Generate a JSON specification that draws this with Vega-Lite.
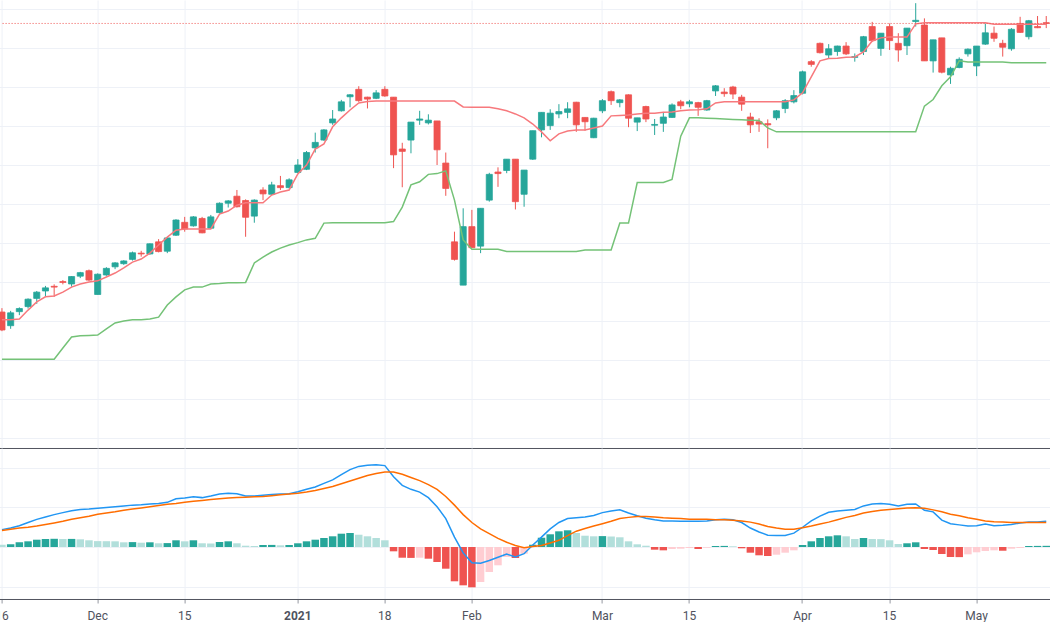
{
  "$schema": "https://vega.github.io/schema/vega-lite/v6.json",
  "padding": {"left": -5.4, "top": 0, "right": 0, "bottom": 0},
  "background": "#ffffff",
  "spacing": 0,
  "config": {
    "view": {"stroke": null},
    "font": "Roboto",
    "axis": {"minExtent": 0, "gridColor": "#eef1f7", "gridWidth": 1}
  },
  "datasets": {
    "bars": [
      {"date":"2020-11-16","open":132.3,"high":133.3,"low":127.4,"close":127.7,"upper":130.3,"lower":120.2,"macd":4.4,"signal":4.2,"hist":0.58},
      {"date":"2020-11-17","open":128.8,"high":132.6,"low":128.0,"close":132.1,"upper":130.3,"lower":120.2,"macd":4.8,"signal":4.5,"hist":0.68},
      {"date":"2020-11-18","open":132.4,"high":133.5,"low":131.5,"close":133.2,"upper":130.5,"lower":120.2,"macd":5.4,"signal":4.8,"hist":1.19},
      {"date":"2020-11-19","open":133.7,"high":135.8,"low":133.2,"close":135.6,"upper":132.8,"lower":120.2,"macd":6.2,"signal":5.0,"hist":1.44},
      {"date":"2020-11-20","open":135.8,"high":137.7,"low":134.4,"close":137.4,"upper":134.9,"lower":120.2,"macd":7.0,"signal":5.3,"hist":1.85},
      {"date":"2020-11-23","open":137.7,"high":139.0,"low":136.2,"close":138.5,"upper":136.2,"lower":120.2,"macd":7.6,"signal":5.7,"hist":2.03},
      {"date":"2020-11-24","open":138.9,"high":139.4,"low":136.2,"close":138.7,"upper":136.4,"lower":120.2,"macd":8.2,"signal":6.1,"hist":2.08},
      {"date":"2020-11-25","open":140.1,"high":140.5,"low":139.4,"close":139.9,"upper":137.4,"lower":123.1,"macd":8.7,"signal":6.5,"hist":2.03},
      {"date":"2020-11-26","open":139.5,"high":141.5,"low":138.8,"close":141.4,"upper":138.7,"lower":125.9,"macd":9.2,"signal":7.0,"hist":2.05},
      {"date":"2020-11-27","open":141.5,"high":142.6,"low":141.0,"close":142.4,"upper":139.5,"lower":126.2,"macd":9.5,"signal":7.4,"hist":1.95},
      {"date":"2020-11-30","open":142.9,"high":143.2,"low":140.3,"close":140.5,"upper":140.0,"lower":126.3,"macd":9.6,"signal":7.8,"hist":1.70},
      {"date":"2020-12-01","open":136.8,"high":142.2,"low":136.8,"close":142.0,"upper":140.3,"lower":126.4,"macd":9.8,"signal":8.3,"hist":1.49},
      {"date":"2020-12-02","open":141.8,"high":143.8,"low":141.6,"close":143.5,"upper":141.3,"lower":128.0,"macd":10.0,"signal":8.6,"hist":1.47},
      {"date":"2020-12-03","open":143.9,"high":145.1,"low":143.3,"close":144.9,"upper":142.3,"lower":129.5,"macd":10.2,"signal":8.9,"hist":1.44},
      {"date":"2020-12-04","open":144.7,"high":145.6,"low":144.4,"close":145.4,"upper":143.6,"lower":130.0,"macd":10.4,"signal":9.3,"hist":1.19},
      {"date":"2020-12-07","open":145.8,"high":147.8,"low":145.5,"close":147.5,"upper":145.1,"lower":130.3,"macd":10.6,"signal":9.6,"hist":1.24},
      {"date":"2020-12-08","open":147.4,"high":148.0,"low":146.5,"close":147.2,"upper":145.9,"lower":130.3,"macd":10.7,"signal":9.9,"hist":1.09},
      {"date":"2020-12-09","open":147.2,"high":149.9,"low":147.0,"close":149.8,"upper":147.4,"lower":130.5,"macd":10.9,"signal":10.2,"hist":1.19},
      {"date":"2020-12-10","open":150.3,"high":151.0,"low":147.6,"close":147.8,"upper":149.5,"lower":131.0,"macd":11.0,"signal":10.5,"hist":0.94},
      {"date":"2020-12-11","open":147.9,"high":151.5,"low":147.4,"close":151.3,"upper":151.5,"lower":134.1,"macd":11.3,"signal":10.8,"hist":0.99},
      {"date":"2020-12-14","open":152.0,"high":156.1,"low":151.8,"close":155.9,"upper":153.3,"lower":136.2,"macd":12.2,"signal":11.0,"hist":1.70},
      {"date":"2020-12-15","open":155.3,"high":156.7,"low":152.9,"close":153.6,"upper":153.6,"lower":138.0,"macd":12.4,"signal":11.3,"hist":1.44},
      {"date":"2020-12-16","open":154.4,"high":156.9,"low":154.2,"close":156.7,"upper":153.6,"lower":138.7,"macd":12.7,"signal":11.6,"hist":1.70},
      {"date":"2020-12-17","open":156.3,"high":156.7,"low":152.5,"close":152.6,"upper":153.6,"lower":138.7,"macd":12.5,"signal":11.8,"hist":0.94},
      {"date":"2020-12-18","open":153.8,"high":157.2,"low":153.6,"close":156.7,"upper":153.6,"lower":139.5,"macd":12.9,"signal":12.0,"hist":0.89},
      {"date":"2020-12-21","open":157.8,"high":160.4,"low":157.6,"close":160.2,"upper":157.4,"lower":139.6,"macd":13.4,"signal":12.2,"hist":1.27},
      {"date":"2020-12-22","open":160.2,"high":161.0,"low":159.1,"close":160.8,"upper":158.2,"lower":139.8,"macd":13.6,"signal":12.4,"hist":1.44},
      {"date":"2020-12-23","open":162.0,"high":163.6,"low":159.1,"close":159.3,"upper":159.7,"lower":139.8,"macd":13.5,"signal":12.5,"hist":0.94},
      {"date":"2020-12-24","open":160.9,"high":161.2,"low":151.6,"close":156.6,"upper":160.3,"lower":139.9,"macd":12.9,"signal":12.6,"hist":0.33},
      {"date":"2020-12-25","open":156.9,"high":161.2,"low":155.2,"close":161.0,"upper":160.3,"lower":144.9,"macd":12.9,"signal":12.7,"hist":0.25},
      {"date":"2020-12-28","open":163.6,"high":164.3,"low":161.0,"close":162.6,"upper":160.3,"lower":146.4,"macd":13.1,"signal":12.8,"hist":0.51},
      {"date":"2020-12-29","open":162.5,"high":165.7,"low":162.3,"close":164.9,"upper":162.3,"lower":147.7,"macd":13.3,"signal":13.0,"hist":0.53},
      {"date":"2020-12-30","open":164.7,"high":167.2,"low":163.6,"close":164.2,"upper":163.1,"lower":148.7,"macd":13.4,"signal":13.2,"hist":0.43},
      {"date":"2020-12-31","open":164.2,"high":166.6,"low":164.0,"close":166.2,"upper":163.6,"lower":149.5,"macd":13.5,"signal":13.4,"hist":0.51},
      {"date":"2021-01-04","open":168.1,"high":171.5,"low":167.9,"close":170.0,"upper":167.7,"lower":150.1,"macd":14.0,"signal":13.6,"hist":0.94},
      {"date":"2021-01-05","open":168.9,"high":173.6,"low":168.7,"close":173.2,"upper":170.0,"lower":150.8,"macd":14.6,"signal":13.9,"hist":1.44},
      {"date":"2021-01-06","open":174.4,"high":178.3,"low":173.2,"close":175.8,"upper":174.1,"lower":151.2,"macd":15.2,"signal":14.3,"hist":1.85},
      {"date":"2021-01-07","open":176.4,"high":179.2,"low":176.2,"close":179.0,"upper":175.4,"lower":155.1,"macd":16.1,"signal":14.8,"hist":2.28},
      {"date":"2021-01-08","open":180.8,"high":184.1,"low":180.3,"close":181.8,"upper":179.8,"lower":155.2,"macd":17.0,"signal":15.3,"hist":2.71},
      {"date":"2021-01-11","open":183.9,"high":186.7,"low":183.7,"close":186.2,"upper":182.1,"lower":155.2,"macd":18.3,"signal":16.0,"hist":3.37},
      {"date":"2021-01-12","open":187.5,"high":188.2,"low":184.8,"close":188.0,"upper":184.1,"lower":155.2,"macd":19.6,"signal":16.7,"hist":3.54},
      {"date":"2021-01-13","open":189.4,"high":190.2,"low":186.2,"close":186.5,"upper":185.9,"lower":155.2,"macd":20.4,"signal":17.4,"hist":3.11},
      {"date":"2021-01-14","open":187.4,"high":187.5,"low":184.5,"close":186.9,"upper":186.3,"lower":155.2,"macd":20.7,"signal":18.1,"hist":2.71},
      {"date":"2021-01-15","open":187.1,"high":189.2,"low":186.9,"close":188.5,"upper":186.4,"lower":155.2,"macd":20.8,"signal":18.6,"hist":2.28},
      {"date":"2021-01-18","open":189.4,"high":190.2,"low":187.5,"close":187.7,"upper":186.4,"lower":155.2,"macd":20.6,"signal":19.0,"hist":1.70},
      {"date":"2021-01-19","open":187.4,"high":187.4,"low":169.2,"close":172.6,"upper":186.4,"lower":155.5,"macd":17.8,"signal":19.0,"hist":-1.09},
      {"date":"2021-01-20","open":174.1,"high":175.7,"low":164.3,"close":173.5,"upper":186.4,"lower":159.2,"macd":15.6,"signal":18.4,"hist":-2.71},
      {"date":"2021-01-21","open":176.4,"high":181.0,"low":173.0,"close":181.0,"upper":186.4,"lower":164.9,"macd":14.6,"signal":17.6,"hist":-2.76},
      {"date":"2021-01-22","open":181.5,"high":183.9,"low":180.3,"close":181.8,"upper":186.4,"lower":165.7,"macd":13.9,"signal":16.8,"hist":-2.71},
      {"date":"2021-01-25","open":180.8,"high":183.0,"low":180.4,"close":181.5,"upper":186.4,"lower":167.6,"macd":12.5,"signal":15.8,"hist":-2.96},
      {"date":"2021-01-26","open":181.3,"high":181.3,"low":170.0,"close":173.9,"upper":186.4,"lower":167.8,"macd":10.2,"signal":14.6,"hist":-3.80},
      {"date":"2021-01-27","open":170.5,"high":173.2,"low":162.1,"close":164.0,"upper":186.4,"lower":168.5,"macd":7.2,"signal":12.8,"hist":-5.49},
      {"date":"2021-01-28","open":150.3,"high":152.9,"low":145.5,"close":145.8,"upper":186.4,"lower":161.0,"macd":2.5,"signal":10.6,"hist":-8.68},
      {"date":"2021-01-29","open":139.2,"high":158.9,"low":139.2,"close":154.2,"upper":184.9,"lower":150.8,"macd":-1.5,"signal":8.2,"hist":-9.70},
      {"date":"2021-02-01","open":154.2,"high":158.5,"low":148.8,"close":148.8,"upper":184.8,"lower":148.4,"macd":-4.0,"signal":6.2,"hist":-10.20},
      {"date":"2021-02-02","open":149.2,"high":158.9,"low":147.4,"close":158.9,"upper":184.8,"lower":148.4,"macd":-4.1,"signal":4.6,"hist":-8.86},
      {"date":"2021-02-03","open":161.0,"high":168.0,"low":160.6,"close":167.6,"upper":184.8,"lower":148.4,"macd":-3.4,"signal":3.4,"hist":-6.33},
      {"date":"2021-02-04","open":168.2,"high":169.4,"low":164.4,"close":167.8,"upper":184.4,"lower":148.4,"macd":-2.6,"signal":2.2,"hist":-4.63},
      {"date":"2021-02-05","open":168.6,"high":171.5,"low":167.9,"close":171.5,"upper":183.9,"lower":147.8,"macd":-1.8,"signal":1.2,"hist":-2.53},
      {"date":"2021-02-08","open":171.5,"high":171.5,"low":158.6,"close":160.6,"upper":183.1,"lower":147.8,"macd":-2.5,"signal":0.4,"hist":-2.78},
      {"date":"2021-02-09","open":162.5,"high":168.7,"low":159.3,"close":168.7,"upper":182.1,"lower":147.8,"macd":-1.7,"signal":-0.2,"hist":-1.70},
      {"date":"2021-02-10","open":171.5,"high":178.8,"low":171.3,"close":178.8,"upper":180.5,"lower":147.8,"macd":0.5,"signal":0.1,"hist":0.58},
      {"date":"2021-02-18","open":179.0,"high":183.5,"low":177.1,"close":183.5,"upper":178.5,"lower":147.8,"macd":2.5,"signal":0.4,"hist":2.35},
      {"date":"2021-02-19","open":180.1,"high":184.3,"low":179.0,"close":183.3,"upper":176.2,"lower":147.8,"macd":4.6,"signal":1.0,"hist":3.22},
      {"date":"2021-02-22","open":183.1,"high":185.6,"low":182.0,"close":183.7,"upper":178.0,"lower":147.8,"macd":6.2,"signal":1.7,"hist":3.97},
      {"date":"2021-02-23","open":183.5,"high":186.1,"low":182.0,"close":184.4,"upper":178.7,"lower":147.8,"macd":7.2,"signal":2.9,"hist":4.23},
      {"date":"2021-02-24","open":186.1,"high":186.2,"low":178.5,"close":180.3,"upper":179.0,"lower":147.8,"macd":7.4,"signal":4.0,"hist":3.54},
      {"date":"2021-02-25","open":182.2,"high":182.2,"low":178.8,"close":181.1,"upper":179.0,"lower":148.2,"macd":7.6,"signal":4.7,"hist":2.86},
      {"date":"2021-02-26","open":177.0,"high":182.1,"low":176.9,"close":182.0,"upper":179.5,"lower":148.2,"macd":8.0,"signal":5.3,"hist":2.71},
      {"date":"2021-03-01","open":183.9,"high":186.9,"low":183.3,"close":186.5,"upper":180.0,"lower":148.2,"macd":8.7,"signal":5.9,"hist":2.76},
      {"date":"2021-03-02","open":188.8,"high":189.1,"low":185.4,"close":186.5,"upper":182.6,"lower":148.2,"macd":9.1,"signal":6.5,"hist":2.66},
      {"date":"2021-03-03","open":186.0,"high":186.9,"low":184.8,"close":186.7,"upper":182.7,"lower":155.1,"macd":9.4,"signal":7.2,"hist":2.46},
      {"date":"2021-03-04","open":188.0,"high":188.1,"low":179.7,"close":182.0,"upper":182.8,"lower":155.1,"macd":8.6,"signal":7.5,"hist":1.44},
      {"date":"2021-03-05","open":181.0,"high":182.1,"low":178.7,"close":182.1,"upper":183.1,"lower":165.5,"macd":7.9,"signal":7.7,"hist":0.68},
      {"date":"2021-03-08","open":185.0,"high":185.2,"low":181.0,"close":181.8,"upper":183.3,"lower":165.5,"macd":7.3,"signal":7.7,"hist":0.33},
      {"date":"2021-03-09","open":180.2,"high":181.8,"low":177.7,"close":180.4,"upper":183.3,"lower":165.5,"macd":6.9,"signal":7.6,"hist":-0.68},
      {"date":"2021-03-10","open":180.7,"high":183.6,"low":178.5,"close":182.3,"upper":183.5,"lower":165.5,"macd":6.6,"signal":7.4,"hist":-0.84},
      {"date":"2021-03-11","open":182.2,"high":185.8,"low":182.1,"close":185.4,"upper":183.6,"lower":166.3,"macd":6.6,"signal":7.3,"hist":-0.51},
      {"date":"2021-03-12","open":186.2,"high":186.7,"low":184.3,"close":185.2,"upper":183.9,"lower":177.4,"macd":6.5,"signal":7.2,"hist":-0.43},
      {"date":"2021-03-15","open":185.7,"high":186.7,"low":184.8,"close":186.2,"upper":184.1,"lower":182.1,"macd":6.5,"signal":7.0,"hist":-0.25},
      {"date":"2021-03-16","open":186.0,"high":186.2,"low":182.6,"close":184.8,"upper":184.2,"lower":182.1,"macd":6.5,"signal":7.0,"hist":-0.51},
      {"date":"2021-03-17","open":184.1,"high":186.7,"low":183.9,"close":186.5,"upper":184.4,"lower":182.0,"macd":6.6,"signal":7.0,"hist":-0.18},
      {"date":"2021-03-18","open":189.0,"high":190.5,"low":187.7,"close":190.3,"upper":185.9,"lower":181.9,"macd":6.9,"signal":6.9,"hist":0.25},
      {"date":"2021-03-19","open":188.7,"high":189.7,"low":187.5,"close":188.3,"upper":186.2,"lower":181.8,"macd":7.0,"signal":6.9,"hist":0.28},
      {"date":"2021-03-22","open":190.0,"high":190.3,"low":186.9,"close":188.2,"upper":186.2,"lower":181.7,"macd":6.9,"signal":6.8,"hist":0.18},
      {"date":"2021-03-23","open":187.4,"high":188.0,"low":183.9,"close":185.6,"upper":186.2,"lower":181.6,"macd":6.2,"signal":6.6,"hist":-0.33},
      {"date":"2021-03-24","open":182.3,"high":183.4,"low":178.2,"close":180.3,"upper":186.2,"lower":181.5,"macd":4.8,"signal":6.3,"hist":-1.44},
      {"date":"2021-03-25","open":181.1,"high":182.0,"low":178.5,"close":180.5,"upper":186.2,"lower":181.4,"macd":3.8,"signal":5.8,"hist":-2.10},
      {"date":"2021-03-26","open":180.6,"high":181.7,"low":174.3,"close":180.3,"upper":186.2,"lower":179.5,"macd":3.0,"signal":5.2,"hist":-2.28},
      {"date":"2021-03-29","open":182.1,"high":184.1,"low":181.5,"close":183.9,"upper":186.2,"lower":178.5,"macd":2.9,"signal":4.8,"hist":-1.95},
      {"date":"2021-03-30","open":184.5,"high":186.9,"low":183.3,"close":186.5,"upper":186.2,"lower":178.5,"macd":2.9,"signal":4.5,"hist":-1.44},
      {"date":"2021-03-31","open":186.2,"high":189.2,"low":185.8,"close":187.8,"upper":186.7,"lower":178.5,"macd":3.5,"signal":4.5,"hist":-0.84},
      {"date":"2021-04-01","open":188.4,"high":194.2,"low":188.1,"close":193.9,"upper":188.5,"lower":178.5,"macd":5.0,"signal":4.9,"hist":0.51},
      {"date":"2021-04-02","open":196.5,"high":196.9,"low":195.2,"close":195.8,"upper":192.6,"lower":178.5,"macd":6.6,"signal":5.3,"hist":1.44},
      {"date":"2021-04-05","open":201.2,"high":201.4,"low":198.6,"close":198.8,"upper":196.7,"lower":178.5,"macd":7.8,"signal":5.8,"hist":2.28},
      {"date":"2021-04-06","open":198.2,"high":201.0,"low":197.4,"close":199.8,"upper":197.3,"lower":178.5,"macd":8.8,"signal":6.3,"hist":2.71},
      {"date":"2021-04-07","open":199.1,"high":200.6,"low":198.0,"close":200.5,"upper":197.4,"lower":178.5,"macd":9.1,"signal":6.9,"hist":2.96},
      {"date":"2021-04-08","open":200.5,"high":201.5,"low":198.2,"close":198.5,"upper":197.6,"lower":178.5,"macd":9.3,"signal":7.5,"hist":2.71},
      {"date":"2021-04-09","open":197.6,"high":198.6,"low":196.5,"close":197.8,"upper":197.7,"lower":178.5,"macd":9.5,"signal":8.0,"hist":2.03},
      {"date":"2021-04-12","open":199.1,"high":203.1,"low":198.2,"close":202.9,"upper":199.0,"lower":178.5,"macd":10.4,"signal":8.6,"hist":2.28},
      {"date":"2021-04-13","open":205.5,"high":206.7,"low":201.6,"close":201.9,"upper":201.8,"lower":178.5,"macd":10.9,"signal":9.0,"hist":2.03},
      {"date":"2021-04-14","open":199.9,"high":203.8,"low":198.0,"close":203.8,"upper":202.6,"lower":178.5,"macd":11.0,"signal":9.3,"hist":2.00},
      {"date":"2021-04-15","open":205.5,"high":206.3,"low":199.5,"close":201.9,"upper":202.8,"lower":178.5,"macd":10.8,"signal":9.5,"hist":1.70},
      {"date":"2021-04-16","open":201.2,"high":203.8,"low":196.5,"close":199.5,"upper":202.8,"lower":178.5,"macd":10.4,"signal":9.7,"hist":0.76},
      {"date":"2021-04-19","open":200.6,"high":205.1,"low":198.2,"close":205.1,"upper":202.8,"lower":178.5,"macd":10.8,"signal":9.9,"hist":0.94},
      {"date":"2021-04-20","open":206.8,"high":211.5,"low":205.5,"close":207.1,"upper":206.2,"lower":178.5,"macd":10.9,"signal":9.95,"hist":1.19},
      {"date":"2021-04-21","open":205.9,"high":207.6,"low":196.7,"close":196.7,"upper":206.5,"lower":185.1,"macd":9.3,"signal":9.8,"hist":-0.51},
      {"date":"2021-04-22","open":196.7,"high":202.1,"low":193.7,"close":202.1,"upper":206.5,"lower":186.8,"macd":8.9,"signal":9.4,"hist":-0.76},
      {"date":"2021-04-23","open":202.6,"high":202.6,"low":193.5,"close":193.8,"upper":206.5,"lower":190.3,"macd":6.8,"signal":8.9,"hist":-1.77},
      {"date":"2021-04-26","open":193.1,"high":195.2,"low":190.8,"close":194.8,"upper":206.5,"lower":192.6,"macd":5.9,"signal":8.3,"hist":-2.53},
      {"date":"2021-04-27","open":195.0,"high":197.6,"low":194.8,"close":197.1,"upper":206.5,"lower":196.7,"macd":5.6,"signal":7.9,"hist":-2.56},
      {"date":"2021-04-28","open":198.5,"high":199.9,"low":197.8,"close":199.7,"upper":206.5,"lower":196.4,"macd":5.3,"signal":7.4,"hist":-1.85},
      {"date":"2021-05-06","open":195.4,"high":200.5,"low":192.8,"close":200.5,"upper":206.5,"lower":196.4,"macd":5.4,"signal":7.0,"hist":-1.34},
      {"date":"2021-05-07","open":201.0,"high":206.3,"low":200.8,"close":203.9,"upper":206.5,"lower":196.4,"macd":5.8,"signal":6.6,"hist":-1.01},
      {"date":"2021-05-10","open":203.8,"high":205.5,"low":201.6,"close":202.5,"upper":206.1,"lower":196.4,"macd":5.4,"signal":6.4,"hist":-0.84},
      {"date":"2021-05-11","open":201.2,"high":202.1,"low":197.8,"close":200.2,"upper":206.1,"lower":196.4,"macd":5.5,"signal":6.3,"hist":-0.94},
      {"date":"2021-05-12","open":199.8,"high":205.1,"low":199.3,"close":204.8,"upper":206.1,"lower":196.2,"macd":5.7,"signal":6.2,"hist":-0.43},
      {"date":"2021-05-13","open":206.3,"high":208.0,"low":203.9,"close":204.0,"upper":206.1,"lower":196.2,"macd":6.1,"signal":6.2,"hist":-0.25},
      {"date":"2021-05-14","open":202.9,"high":207.2,"low":202.2,"close":207.0,"upper":206.1,"lower":196.2,"macd":6.3,"signal":6.2,"hist":0.25},
      {"date":"2021-05-17","open":205.5,"high":208.2,"low":205.1,"close":205.2,"upper":206.1,"lower":196.2,"macd":6.3,"signal":6.2,"hist":0.28},
      {"date":"2021-05-18","open":206.5,"high":208.2,"low":205.1,"close":206.3,"upper":206.1,"lower":196.2,"macd":6.5,"signal":6.2,"hist":0.30}
    ]
  },
  "vconcat": [
    {
      "width": 1050,
      "height": 448,
      "data": {"name": "bars"},
      "layer": [
        {
          "mark": {"type": "rule", "strokeWidth": 1},
          "encoding": {
            "x": {
              "field": "date", "type": "ordinal",
              "scale": {"range": [-3, 1050], "paddingInner": 0, "paddingOuter": 0},
              "axis": {
                "title": null,
                "values": ["2020-11-16","2020-12-01","2020-12-15","2021-01-04","2021-01-18","2021-02-01","2021-03-01","2021-03-15","2021-04-01","2021-04-15","2021-05-06"],
                "bandPosition": 0.5, "labels": false, "ticks": false, "grid": true,
                "domain": true, "domainColor": "#50535e", "domainWidth": 1
              }
            },
            "y": {
              "field": "low", "type": "quantitative",
              "scale": {"domain": [97.44, 212.31], "nice": false, "zero": false},
              "axis": {"title": null, "values": [100,110,120,130,140,150,160,170,180,190,200,210], "labels": false, "ticks": false, "domain": false, "grid": true}
            },
            "y2": {"field": "high"},
            "color": {"condition": {"test": "datum.close >= datum.open", "value": "#26a69a"}, "value": "#ef5350"}
          }
        },
        {
          "mark": {"type": "bar", "width": {"band": 0.7}, "strokeWidth": 0.8},
          "encoding": {
            "x": {"field": "date", "type": "ordinal"},
            "y": {"field": "open", "type": "quantitative"},
            "y2": {"field": "close"},
            "color": {"condition": {"test": "datum.close >= datum.open", "value": "#26a69a"}, "value": "#ef5350"},
            "stroke": {"condition": {"test": "datum.close >= datum.open", "value": "#26a69a"}, "value": "#ef5350"}
          }
        },
        {
          "mark": {"type": "line", "color": "#f7797d", "strokeWidth": 1.5},
          "encoding": {
            "x": {"field": "date", "type": "ordinal"},
            "y": {"field": "upper", "type": "quantitative"}
          }
        },
        {
          "mark": {"type": "line", "color": "#74c277", "strokeWidth": 1.5},
          "encoding": {
            "x": {"field": "date", "type": "ordinal"},
            "y": {"field": "lower", "type": "quantitative"}
          }
        },
        {
          "transform": [{"filter": "datum.date == '2021-05-18'"}],
          "mark": {"type": "rule", "color": "#ef5350", "strokeWidth": 1, "strokeDash": [1, 2], "opacity": 1},
          "encoding": {
            "y": {"field": "close", "type": "quantitative"}
          }
        }
      ]
    },
    {
      "width": 1050,
      "height": 151,
      "data": {"name": "bars"},
      "encoding": {
        "x": {
          "field": "date", "type": "ordinal",
          "scale": {"range": [-3, 1050], "paddingInner": 0, "paddingOuter": 0},
          "axis": {
            "title": null,
            "values": ["2020-11-16","2020-12-01","2020-12-15","2021-01-04","2021-01-18","2021-02-01","2021-03-01","2021-03-15","2021-04-01","2021-04-15","2021-05-06"],
            "bandPosition": 0.5, "grid": true, "labelAngle": 0,
            "domain": true, "domainColor": "#50535e", "domainWidth": 1,
            "ticks": true, "tickSize": 4, "tickColor": "#9598a1",
            "labelPadding": 8, "labelFontSize": 12, "labelColor": "#50535e", "labelFont": "Roboto",
            "labelFontWeight": {"condition": {"test": "datum.value == '2021-01-04'", "value": "bold"}, "value": "normal"},
            "labelExpr": "datum.value == '2021-01-04' ? '2021' : datum.value == '2020-12-01' ? 'Dec' : datum.value == '2021-02-01' ? 'Feb' : datum.value == '2021-03-01' ? 'Mar' : datum.value == '2021-04-01' ? 'Apr' : datum.value == '2021-05-06' ? 'May' : '' + toNumber(substring(datum.value, 8, 10))"
          }
        }
      },
      "layer": [
        {
          "transform": [{"window": [{"op": "lag", "field": "hist", "as": "prev"}], "sort": [{"field": "date", "order": "ascending"}]}],
          "mark": {"type": "bar", "width": {"band": 0.86}},
          "encoding": {
            "y": {
              "field": "hist", "type": "quantitative",
              "scale": {"domain": [-13.16, 25.06], "nice": false, "zero": false},
              "axis": {"title": null, "values": [-10, 0, 10, 20], "labels": false, "ticks": false, "domain": false, "grid": true}
            },
            "y2": {"datum": 0},
            "color": {
              "condition": [
                {"test": "datum.hist >= 0 && datum.prev != null && datum.hist >= datum.prev", "value": "#26a69a"},
                {"test": "datum.hist >= 0", "value": "#b2dfdb"},
                {"test": "datum.prev != null && datum.hist > datum.prev", "value": "#ffcdd2"}
              ],
              "value": "#ef5350"
            }
          }
        },
        {
          "mark": {"type": "line", "color": "#2196f3", "strokeWidth": 1.5},
          "encoding": {"y": {"field": "macd", "type": "quantitative"}}
        },
        {
          "mark": {"type": "line", "color": "#ff6d00", "strokeWidth": 1.5},
          "encoding": {"y": {"field": "signal", "type": "quantitative"}}
        }
      ]
    }
  ]
}
